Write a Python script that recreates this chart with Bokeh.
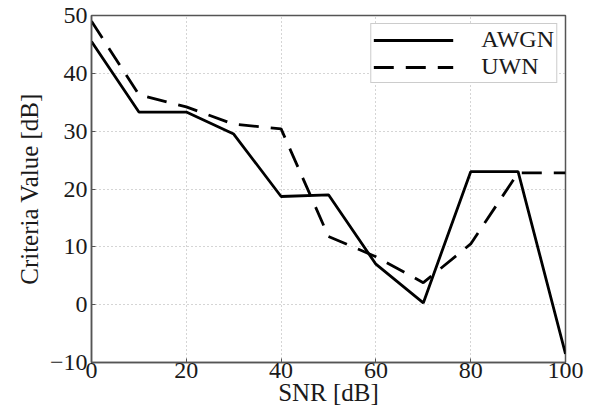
from bokeh.plotting import figure
from bokeh.models import Range1d, Legend, LegendItem, FixedTicker
from bokeh.embed import file_html
from bokeh.resources import INLINE

snr = [0, 10, 20, 30, 40, 50, 60, 70, 80, 90, 100]
awgn = [45.5, 33.3, 33.3, 29.5, 18.7, 19.0, 7.0, 0.3, 23.0, 23.0, -8.5]
uwn = [49.0, 36.3, 34.2, 31.2, 30.4, 11.8, 8.3, 3.8, 10.5, 22.8, 22.8]
x_ticks = [0, 20, 40, 60, 80, 100]
y_ticks = [-10, 0, 10, 20, 30, 40, 50]

FONT = "Liberation Serif"

p = figure(width=598, height=418, output_backend="svg", toolbar_location=None,
           x_range=Range1d(0, 100), y_range=Range1d(-10, 50),
           min_border_left=91, min_border_right=33, min_border_top=15, min_border_bottom=56)
p.background_fill_color = "white"
p.border_fill_color = "white"
p.outline_line_color = "#555555"
p.outline_line_width = 1.5

r1 = p.line(snr, awgn, line_color="black", line_width=2.8)
r2 = p.line(snr, uwn, line_color="black", line_width=2.8, line_dash="20 12")

for ax in (p.xaxis[0], p.yaxis[0]):
    ax.axis_line_color = "#555555"
    ax.axis_line_width = 1.5
    ax.major_tick_in = 4
    ax.major_tick_out = 0
    ax.minor_tick_line_color = None
    ax.major_tick_line_color = "#555555"
    ax.major_label_text_font = FONT
    ax.major_label_text_font_size = "24px"
    ax.major_label_text_color = "#1a1a1a"
    ax.axis_label_text_font = FONT
    ax.axis_label_text_font_size = "25px"
    ax.axis_label_text_font_style = "normal"
    ax.axis_label_text_color = "#1a1a1a"

p.xaxis[0].ticker = FixedTicker(ticks=x_ticks)
p.yaxis[0].ticker = FixedTicker(ticks=y_ticks)
p.xaxis[0].axis_label = "SNR [dB]"
p.yaxis[0].axis_label = "Criteria Value [dB]"
p.xaxis[0].major_label_standoff = 0
p.xaxis[0].axis_label_standoff = -2
p.yaxis[0].major_label_standoff = 4
p.yaxis[0].axis_label_standoff = 4

p.xgrid.grid_line_color = "#aaaaaa"
p.ygrid.grid_line_color = "#aaaaaa"
p.xgrid.grid_line_dash = "1 3"
p.ygrid.grid_line_dash = "1 3"
p.xgrid.ticker = FixedTicker(ticks=x_ticks)
p.ygrid.ticker = FixedTicker(ticks=y_ticks)

legend = Legend(items=[LegendItem(label="AWGN", renderers=[r1]),
                       LegendItem(label="UWN", renderers=[r2])],
                location="top_right")
legend.label_text_font = FONT
legend.label_text_font_size = "24px"
legend.label_text_color = "#1a1a1a"
legend.glyph_width = 80
legend.glyph_height = 16
legend.label_height = 16
legend.spacing = 0
legend.padding = 2
legend.margin = 8
legend.label_standoff = 28
legend.border_line_color = "#999999"
legend.border_line_width = 1.2
legend.background_fill_alpha = 1.0
p.add_layout(legend)

open("out.html", "w").write(file_html(p, INLINE))
